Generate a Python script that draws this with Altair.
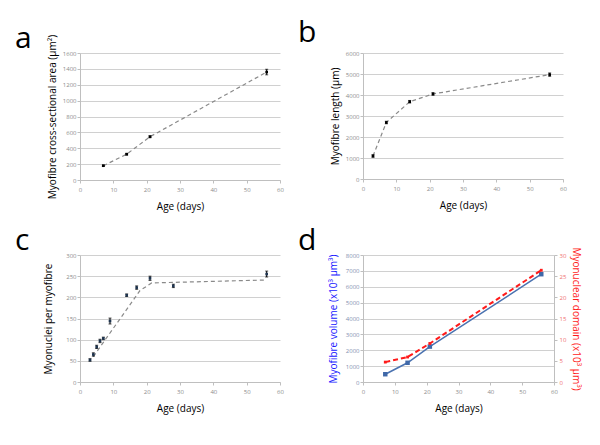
import altair as alt
import pandas as pd

FONT = "Open Sans"

# ---- data ----
a_age = [7, 14, 21, 56]
a_mean = [180, 325, 545, 1360]
a_err = [8, 10, 12, 35]

b_age = [3, 7, 14, 21, 56]
b_mean = [1095, 2690, 3680, 4050, 4970]
b_err = [60, 60, 60, 60, 80]

c_age = [3, 4, 5, 6, 7, 9, 14, 17, 21, 28, 56]
c_mean = [52, 65, 83, 97, 103, 144, 205, 223, 245, 227, 255]
c_err = [3, 4, 4, 4, 3, 7, 3, 4, 5, 4, 7]
c_fit_age = [4, 18, 21.5, 56]
c_fit_val = [60, 216, 234, 241]

d_age = [7, 14, 21, 56]
d_volume = [490, 1210, 2230, 6790]
d_domain = [4.7, 5.9, 9.1, 26.4]

x_ticks = [0, 10, 20, 30, 40, 50, 60]

AX = dict(domainColor="#bfbfbf", tickColor="#bfbfbf", tickSize=3,
          labelFontSize=6, labelColor="#8c8c8c", labelFont=FONT,
          titleFont=FONT, titleFontSize=10, titleFontWeight="normal",
          titleColor="#000000", format="d", labelOverlap=False,
          labelBound=False, labelFlush=False)


def xaxis():
    return alt.Axis(values=x_ticks, grid=False, title="Age (days)",
                    labelPadding=3, titlePadding=9,
                    minExtent=12, maxExtent=12, **AX)


def xenc(field="age"):
    return alt.X(f"{field}:Q", scale=alt.Scale(domain=[0, 60], nice=False),
                 axis=xaxis())


def yaxis(vals, title, tpad, **kw):
    opts = dict(AX)
    opts.update(kw)
    return alt.Axis(values=vals, grid=True, gridColor="#d0d0d0", title=title,
                    labelPadding=1, titlePadding=tpad, minExtent=18,
                    maxExtent=18, **opts)


def letter(t, dy):
    return alt.Chart(pd.DataFrame({"t": [t]})).mark_text(
        font=FONT, fontSize=30, align="left", baseline="alphabetic",
        color="#000000"
    ).encode(x=alt.value(-65), y=alt.value(dy), text="t:N")


def errpanel(age, mean, err, fit_age, fit_val, ymax, yvals, title, tpad,
             mcolor, lt, ldy, w=200, h=127):
    df = pd.DataFrame({"age": age, "mean": mean,
                       "lo": [m - e for m, e in zip(mean, err)],
                       "hi": [m + e for m, e in zip(mean, err)]})
    fit = pd.DataFrame({"age": fit_age, "val": fit_val})
    ysc = alt.Scale(domain=[0, ymax], nice=False)

    def Y(f):
        return alt.Y(f"{f}:Q", scale=ysc, axis=yaxis(yvals, title, tpad))

    line = alt.Chart(fit).mark_line(color="#8a8a8a", strokeDash=[4, 3],
                                    strokeWidth=1.2).encode(x=xenc(), y=Y("val"))
    base = alt.Chart(df)
    rule = base.mark_rule(color="#000000", strokeWidth=1).encode(
        x=xenc(), y=Y("lo"), y2="hi:Q")
    caplo = base.mark_tick(color="#000000", orient="horizontal", size=3,
                           thickness=1).encode(x=xenc(), y=Y("lo"))
    caphi = base.mark_tick(color="#000000", orient="horizontal", size=3,
                           thickness=1).encode(x=xenc(), y=Y("hi"))
    pts = base.mark_point(shape="square", filled=True, size=7, color=mcolor,
                          opacity=1).encode(x=xenc(), y=Y("mean"))
    return alt.layer(line, rule, caplo, caphi, pts, letter(lt, ldy)).properties(
        width=w, height=h)


pa = errpanel(a_age, a_mean, a_err, a_age, a_mean, 1600,
              list(range(0, 1601, 200)),
              "Myofibre cross-sectional area (µm²)", 5, "#000000", "a", -5)
pb = errpanel(b_age, b_mean, b_err, b_age, b_mean, 6000,
              list(range(0, 6001, 1000)),
              "Myofibre length (µm)", 5, "#000000", "b", -11, h=126)
pc = errpanel(c_age, c_mean, c_err, c_fit_age, c_fit_val, 300,
              list(range(0, 301, 50)),
              "Myonuclei per myofibre", 9, "#1f3550", "c", -5)

dd = pd.DataFrame({"age": d_age, "vol": d_volume, "dom": d_domain})
vsc = alt.Scale(domain=[0, 8000], nice=False)
rsc = alt.Scale(domain=[0, 30], nice=False)
blue = alt.Chart(dd).mark_line(color="#4a72b0", strokeWidth=1.5,
                               point=alt.OverlayMarkDef(shape="square", size=20,
                                                        filled=True,
                                                        color="#3f68a8")).encode(
    x=xenc(),
    y=alt.Y("vol:Q", scale=vsc,
            axis=yaxis(list(range(0, 8001, 1000)),
                       "Myofibre volume (x10³ µm³)", 7,
                       titleColor="#2020ff", labelColor="#7f8fb0")))
red = alt.Chart(dd).mark_line(color="#ff1a1a", strokeWidth=2,
                              strokeDash=[5, 3],
                              point=alt.OverlayMarkDef(shape="square", size=8,
                                                       filled=True,
                                                       color="#ff1a1a")).encode(
    x=xenc(),
    y=alt.Y("dom:Q", scale=rsc,
            axis=alt.Axis(orient="right", values=list(range(0, 31, 5)),
                          grid=False, title="Myonuclear domain (x10³ µm³)",
                          labelPadding=2, titlePadding=6, minExtent=10,
                          maxExtent=10,
                          **dict(AX, titleColor="#ff1a1a",
                                 labelColor="#f07070"))))
pd_ = alt.layer(blue, red, letter("d", -5)).resolve_scale(
    y="independent").properties(width=191, height=127)

chart = alt.concat(pa, pb, pc, pd_, columns=2,
                   spacing={"row": 75, "column": 83}, bounds="flush").properties(
    padding={"left": 7, "top": 10, "right": 5, "bottom": 5},
    background="#ffffff"
).configure_view(stroke=None)

chart.save("out.html", embed_options={"renderer": "svg", "actions": False})
